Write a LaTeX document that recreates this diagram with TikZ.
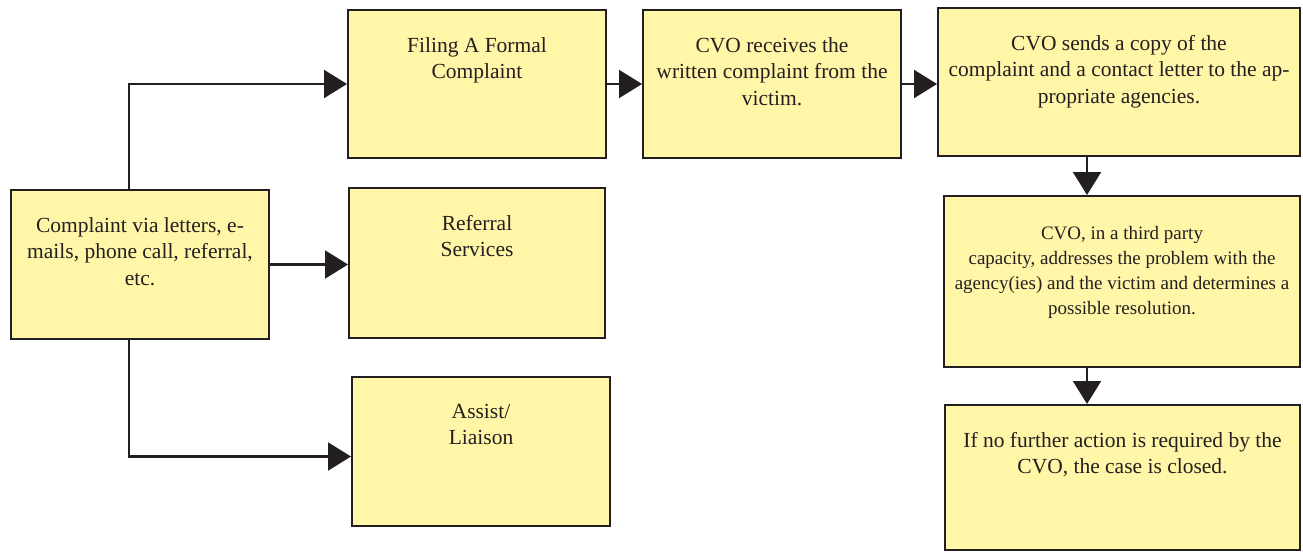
\documentclass[tikz,border=0pt]{standalone}
\usepackage{fontspec}
\setmainfont{Liberation Serif}
\usetikzlibrary{arrows.meta,positioning}
\definecolor{boxyel}{RGB}{255,246,168}
\definecolor{darkln}{RGB}{35,31,32}

\begin{document}
\begin{tikzpicture}[x=1pt,y=-1pt,
  box/.style={draw=darkln,fill=boxyel,line width=2pt,anchor=north west,inner sep=0pt},
  boxtext/.style={align=center,inner sep=0pt,text=darkln,font=\fontsize{21.5}{26.5}\selectfont},
  link/.style={draw=darkln,line width=2.2pt,-{Triangle[length=23pt,width=28pt]}}]
  \useasboundingbox (0,0) rectangle (1303,552);
  \node[box,minimum width=258pt,minimum height=149pt] (start) at (10,189) {};
  \node[box,minimum width=258pt,minimum height=148pt] (filing) at (347,9) {};
  \node[box,minimum width=256pt,minimum height=150pt] (referral) at (348,187) {};
  \node[box,minimum width=258pt,minimum height=149pt] (assist) at (351,376) {};
  \node[box,minimum width=258pt,minimum height=148pt] (receives) at (642,9) {};
  \node[box,minimum width=362pt,minimum height=148pt] (sends) at (937,7) {};
  \node[box,minimum width=356pt,minimum height=171pt] (third) at (943,195) {};
  \node[box,minimum width=355pt,minimum height=145pt] (closed) at (944,404) {};
  \node[boxtext,below=28pt of start.north] (starttxt) {Complaint via letters, e-\\mails, phone call, referral,\\etc.};
  \node[boxtext,below=28pt of filing.north] (filingtxt) {Filing A Formal\\Complaint};
  \node[boxtext,below=28pt of referral.north] (referraltxt) {Referral\\Services};
  \node[boxtext,below=28pt of assist.north] (assisttxt) {Assist/\\Liaison};
  \node[boxtext,below=28pt of receives.north] (receivestxt) {CVO receives the\\written complaint from the\\victim.};
  \node[boxtext,below=28pt of sends.north] (sendstxt) {CVO sends a copy of the\\complaint and a contact letter to the ap-\\propriate agencies.};
  \node[boxtext,font=\fontsize{19}{25}\selectfont,below=31pt of third.north] (thirdtxt) {CVO, in a third party\\capacity, addresses the problem with the\\agency(ies) and the victim and determines a\\possible resolution.};
  \node[boxtext,below=28pt of closed.north] (closedtxt) {If no further action is required by the\\CVO, the case is closed.};
  \coordinate (fork) at (129,0);
  \coordinate (col) at (1087,0);
  \draw[link] (fork |- start.north) |- (filing.west);
  \draw[link] (start.east) -- (start.east -| referral.west);
  \draw[link] (fork |- start.south) |- ([yshift=-5pt]assist.west);
  \draw[link] (filing.east) -- (receives.west);
  \draw[link] (receives.east) -- (receives.east -| sends.west);
  \draw[link] (col |- sends.south) -- (col |- third.north);
  \draw[link] (col |- third.south) -- (col |- closed.north);
\end{tikzpicture}
\end{document}
